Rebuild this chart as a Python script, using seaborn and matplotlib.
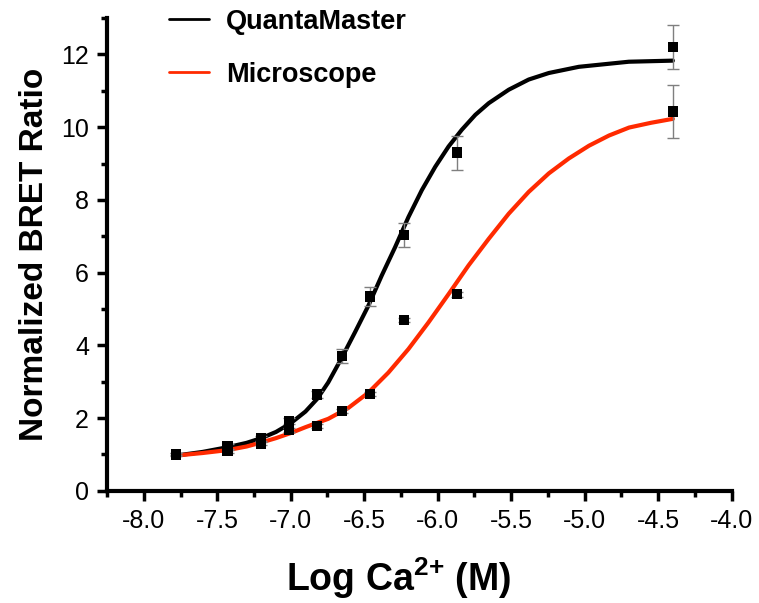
import numpy as np
import pandas as pd
import matplotlib
matplotlib.use("Agg")
import matplotlib.pyplot as plt
import seaborn as sns
from matplotlib.ticker import MultipleLocator, FormatStrFormatter

# measured points (log concentration)
log_ca = [-7.78, -7.43, -7.20, -7.01, -6.82, -6.65, -6.46, -6.23, -5.87, -4.40]
quanta_y = [1.00, 1.22, 1.45, 1.92, 2.65, 3.71, 5.34, 7.03, 9.30, 12.20]
quanta_err = [0.05, 0.06, 0.07, 0.09, 0.10, 0.20, 0.26, 0.33, 0.47, 0.61]
micro_y = [1.02, 1.09, 1.29, 1.67, 1.78, 2.19, 2.67, 4.70, 5.41, 10.43]
micro_err = [0.03, 0.04, 0.04, 0.05, 0.05, 0.05, 0.06, 0.06, 0.07, 0.72]

# fitted curves
quanta_fit_x = [-7.78, -7.60, -7.43, -7.30, -7.20, -7.10, -7.00, -6.90, -6.82, -6.745,
                -6.654, -6.563, -6.472, -6.381, -6.290, -6.199, -6.108, -6.017, -5.926,
                -5.836, -5.744, -5.653, -5.517, -5.381, -5.244, -5.04, -4.70, -4.40]
quanta_fit_y = [0.97, 1.07, 1.20, 1.32, 1.45, 1.62, 1.86, 2.18, 2.53, 2.98,
                3.65, 4.36, 5.09, 5.92, 6.70, 7.53, 8.27, 8.91, 9.47,
                9.93, 10.34, 10.66, 11.03, 11.31, 11.49, 11.66, 11.80, 11.83]
micro_fit_x = [-7.78, -7.60, -7.43, -7.30, -7.20, -7.10, -7.00, -6.90, -6.82, -6.745,
               -6.608, -6.472, -6.336, -6.199, -6.063, -5.926, -5.790, -5.653, -5.517,
               -5.381, -5.244, -5.108, -4.971, -4.835, -4.698, -4.55, -4.40]
micro_fit_y = [0.97, 1.04, 1.12, 1.22, 1.33, 1.45, 1.59, 1.75, 1.87, 1.98,
               2.28, 2.70, 3.25, 3.90, 4.63, 5.41, 6.20, 6.93, 7.62,
               8.22, 8.73, 9.14, 9.49, 9.77, 9.99, 10.12, 10.23]

sns.set_style("ticks")
plt.rcParams['font.family'] = ['Liberation Sans', 'DejaVu Sans']
plt.rcParams['mathtext.fontset'] = 'custom'
plt.rcParams['mathtext.rm'] = 'Liberation Sans'
plt.rcParams['mathtext.bf'] = 'Liberation Sans:bold'
for k in ['text.color', 'axes.labelcolor', 'xtick.color', 'ytick.color', 'axes.edgecolor']:
    plt.rcParams[k] = 'black'

fig = plt.figure(figsize=(7.59, 6.03), dpi=100)
ax = fig.add_axes([0.141, 0.186, 0.823, 0.784])

red = '#ff2a00'

fits = pd.DataFrame({'x': quanta_fit_x + micro_fit_x,
                     'y': quanta_fit_y + micro_fit_y,
                     'src': ['QuantaMaster'] * len(quanta_fit_x) + ['Microscope'] * len(micro_fit_x)})
sns.lineplot(data=fits, x='x', y='y', hue='src', palette={'QuantaMaster': 'black', 'Microscope': red},
             linewidth=3, ax=ax, legend=False, sort=False)

# error bars
ax.errorbar(log_ca, quanta_y, yerr=quanta_err, fmt='none', ecolor='#7f7f7f', elinewidth=1, capsize=4, capthick=1, zorder=3)
ax.errorbar(log_ca, micro_y, yerr=micro_err, fmt='none', ecolor='#7f7f7f', elinewidth=1, capsize=4, capthick=1, zorder=3)

pts = pd.DataFrame({'x': log_ca * 2, 'y': quanta_y + micro_y})
sns.scatterplot(data=pts, x='x', y='y', marker='s', s=55, color='black', edgecolor='none', ax=ax, zorder=4)

# legend handles
ax.plot([], [], color='black', lw=2, label='QuantaMaster')
ax.plot([], [], color=red, lw=2, label='Microscope')
ax.legend(loc='upper left', bbox_to_anchor=(0.10, 1.02), frameon=False, borderaxespad=0, borderpad=0,
          handlelength=1.45, handletextpad=0.65, labelspacing=1.0,
          prop={'weight': 'bold', 'size': 19.5})

ax.set_xlim(-8.25, -4.0)
ax.set_ylim(0, 13)
ax.xaxis.set_major_locator(MultipleLocator(0.5))
ax.xaxis.set_minor_locator(MultipleLocator(0.25))
ax.yaxis.set_major_locator(MultipleLocator(2))
ax.yaxis.set_minor_locator(MultipleLocator(1))
ax.xaxis.set_major_formatter(FormatStrFormatter('%.1f'))

sns.despine(ax=ax)
for s in ['left', 'bottom']:
    ax.spines[s].set_linewidth(3)
ax.tick_params(which='major', direction='out', length=7, width=2.5, labelsize=18, pad=6, color='black')
ax.tick_params(which='minor', direction='out', length=4, width=2.5, color='black')

ax.set_xlabel('Log Ca$^{\\mathbf{2{+}}}$ (M)', fontsize=27, fontweight='bold')
ax.xaxis.set_label_coords(0.466, -0.184)
ax.xaxis.label.set_verticalalignment('center')
ax.set_ylabel('Normalized BRET Ratio', fontsize=24, fontweight='bold', labelpad=8)

fig.savefig('out.png', dpi=100)
